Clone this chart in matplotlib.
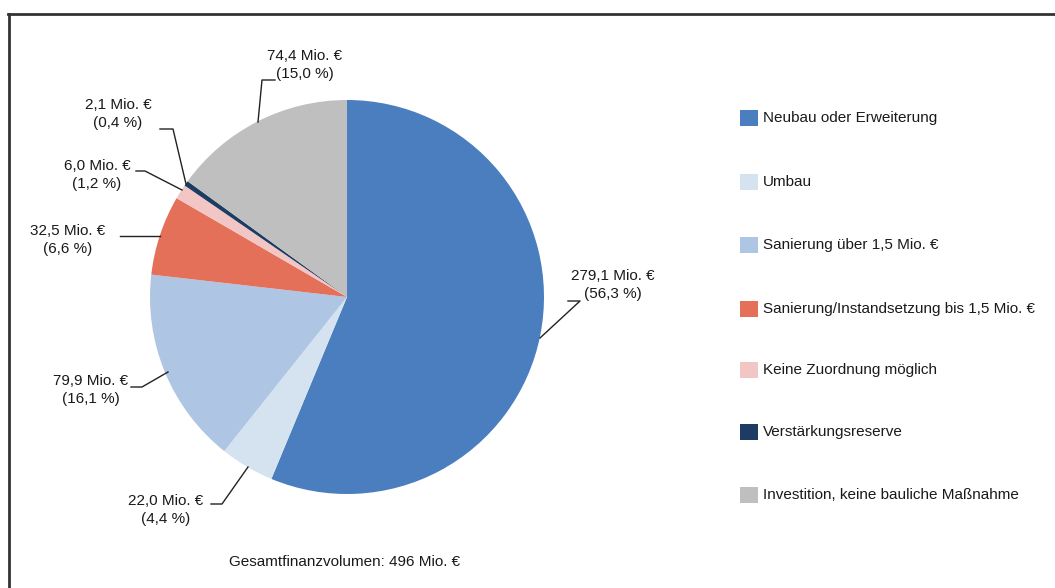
import matplotlib.pyplot as plt
from matplotlib.lines import Line2D
from matplotlib.patches import Rectangle

categories = ['Neubau oder Erweiterung', 'Umbau', 'Sanierung über 1,5 Mio. €',
              'Sanierung/Instandsetzung bis 1,5 Mio. €', 'Keine Zuordnung möglich',
              'Verstärkungsreserve', 'Investition, keine bauliche Maßnahme']
values = [279.1, 22.0, 79.9, 32.5, 6.0, 2.1, 74.4]
percents = ['56,3', '4,4', '16,1', '6,6', '1,2', '0,4', '15,0']
colors = ['#4a7ebe', '#d5e3f1', '#aec5e3', '#e5705a', '#f3c6c6', '#1d3c63', '#bfbfbf']
total_label = 'Gesamtfinanzvolumen: 496 Mio. €'

W, H = 1055, 588
font = ['Liberation Sans Narrow', 'Liberation Sans', 'DejaVu Sans']
plt.rcParams['font.family'] = font

fig = plt.figure(figsize=(W / 100, H / 100), dpi=100)
ax = fig.add_axes([0, 0, 1, 1])

def py(y):
    return H - y

# pie
cx, cy, r = 347, py(297), 197
ax.pie(values, colors=colors, startangle=90, counterclock=False,
       center=(cx, cy), radius=r, frame=True,
       wedgeprops=dict(linewidth=0))
ax.set_xlim(0, W)
ax.set_ylim(0, H)
ax.axis('off')
ax.set_aspect('equal')

# labels: text center, leader line points (pixel coords)
label_pos = [(613, 285), (166, 510), (91, 390), (68, 240), (97, 175), (118, 114), (305, 65)]
leaders = [
    [(540, 338), (580, 301), (568, 301)],
    [(211, 504), (222, 504), (248, 467)],
    [(131, 387), (142, 387), (168, 372)],
    [(120, 236), (160, 236)],
    [(136, 171), (145, 171), (182, 190)],
    [(160, 129), (173, 129), (186, 184)],
    [(275, 80), (262, 80), (258, 122)],
]
for v, p, (tx, ty), pts in zip(values, percents, label_pos, leaders):
    ax.text(tx, py(ty), f'{v:.1f}'.replace('.', ',') + ' Mio. €\n(' + p + ' %)',
            ha='center', va='center', fontsize=11, color='#1a1a1a', linespacing=1.3)
    ax.add_line(Line2D([q[0] for q in pts], [py(q[1]) for q in pts],
                       color='#222222', lw=1))

ax.text(345, py(562), total_label, ha='center', va='center', fontsize=11, color='#1a1a1a')

# legend
leg_y = [118, 182, 245, 309, 370, 432, 495]
for c, name, ly in zip(colors, categories, leg_y):
    ax.add_patch(Rectangle((740, py(ly) - 8), 18, 16, color=c, lw=0))
    ax.text(763, py(ly), name, ha='left', va='center', fontsize=11, color='#1a1a1a')

# frame (top and left visible)
ax.add_line(Line2D([8, W], [py(13.5), py(13.5)], color='#333333', lw=2))
ax.add_line(Line2D([8.5, 8.5], [py(13.5), 0], color='#333333', lw=2))

fig.savefig('out.png', dpi=100)
